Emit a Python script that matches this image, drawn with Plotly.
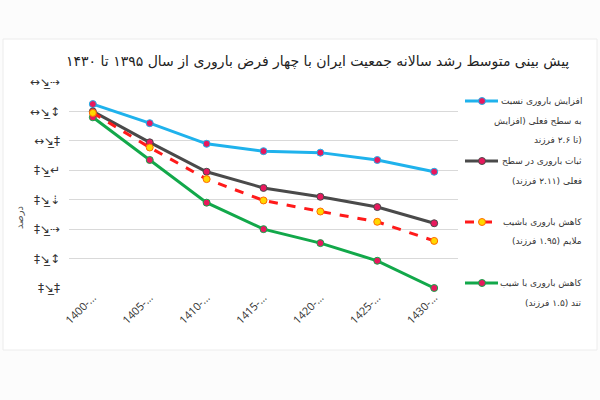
import plotly.graph_objects as go

categories = ["1400-...", "1405-...", "1410-...", "1415-...", "1420-...", "1425-...", "1430-..."]
blue_vals = [1.25, 1.12, 0.98, 0.93, 0.92, 0.87, 0.79]
gray_vals = [1.20, 0.99, 0.79, 0.68, 0.62, 0.55, 0.44]
red_vals = [1.19, 0.955, 0.74, 0.595, 0.52, 0.45, 0.32]
green_vals = [1.16, 0.87, 0.58, 0.40, 0.305, 0.185, 0.0]
ytick_vals = [0, 0.2, 0.4, 0.6, 0.8, 1.0, 1.2, 1.4]
ytick_text = ["‡↘̲‡", "‡↘̲↕", "‡↘̲⇢", "‡↘̲⇣", "‡↘̲↵", "↔↘̲‡", "↔↘̲↕", "↔↘̲⇢"]

title = "پیش بینی متوسط رشد سالانه جمعیت ایران با چهار فرض باروری از سال ۱۳۹۵ تا ۱۴۳۰"
legend_entries = [
    (["افزایش باروری نسبت", "به سطح فعلی (افزایش", "تا ۲.۶ فرزند)"], "#1fb2ec", "solid", "#e8185d", "#1fb2ec"),
    (["ثبات باروری در سطح", "فعلی (۲.۱۱ فرزند)"], "#4a4a4a", "solid", "#e8185d", "#4a4a4a"),
    (["کاهش باروری باشیب", "ملایم (۱.۹۵ فرزند)"], "#ff1a1a", "dash", "#ffd700", "#ff6a00"),
    (["کاهش باروری با شیب", "تند (۱.۵ فرزند)"], "#12a84a", "solid", "#e8185d", "#12a84a"),
]

W, H = 600, 400
L, R, T, B = 69, 458, 82, 288


def px(x):
    return (x - L) / (R - L)


def py(y):
    return (B - y) / (B - T)


fig = go.Figure()
series = [
    (blue_vals, legend_entries[0]),
    (gray_vals, legend_entries[1]),
    (green_vals, legend_entries[3]),
    (red_vals, legend_entries[2]),
]
for vals, (_, lc, dash, mfill, mline) in series:
    fig.add_trace(go.Scatter(
        x=categories, y=vals, mode="lines+markers",
        line=dict(color=lc, width=3, dash=dash),
        marker=dict(size=7, color=mfill, line=dict(color=mline, width=1)),
        showlegend=False, cliponaxis=False,
    ))

shapes = [
    dict(type="rect", xref="paper", yref="paper", x0=px(3), x1=px(597), y0=py(350), y1=py(39),
         fillcolor="white", line=dict(color="#ececec", width=1), layer="below"),
]
annotations = [
    dict(text=title, x=px(317), y=py(61), xref="paper", yref="paper", showarrow=False,
         xanchor="center", yanchor="middle", font=dict(family="DejaVu Sans", size=14, color="#222")),
    dict(text="درصد", x=px(20), y=py(218), xref="paper", yref="paper", showarrow=False,
         textangle=-90, xanchor="center", yanchor="middle", font=dict(family="DejaVu Sans", size=10, color="#555")),
]

legend_y = [101, 161, 222, 283]
for (lines, lc, dash, mfill, mline), ly in zip(legend_entries, legend_y):
    shapes.append(dict(type="line", xref="paper", yref="paper", x0=px(465), x1=px(498), y0=py(ly), y1=py(ly),
                       line=dict(color=lc, width=3, dash=dash)))
    shapes.append(dict(type="circle", xref="paper", yref="paper", xsizemode="pixel", ysizemode="pixel",
                       xanchor=px(482), yanchor=py(ly), x0=-3.5, x1=3.5, y0=-3.5, y1=3.5,
                       fillcolor=mfill, line=dict(color=mline, width=1)))
    for i, t in enumerate(lines):
        annotations.append(dict(text=t, x=px(584), y=py(ly + i * 19.5), xref="paper", yref="paper",
                                showarrow=False, xanchor="right", yanchor="middle",
                                font=dict(family="DejaVu Sans", size=9, color="#333")))

fig.update_layout(
    width=W, height=H,
    margin=dict(l=L, r=W - R, t=T, b=H - B),
    paper_bgcolor="#fcfcfc", plot_bgcolor="rgba(0,0,0,0)",
    shapes=shapes, annotations=annotations,
    xaxis=dict(tickangle=-45, showgrid=False, showline=False, zeroline=False,
               tickfont=dict(family="Open Sans", size=11, color="#333"), ticks=""),
    yaxis=dict(range=[0, 1.4], tickvals=ytick_vals, ticktext=ytick_text, showgrid=True,
               gridcolor="#d9d9d9", gridwidth=1, zeroline=False, showline=False, ticks="",
               tickfont=dict(family="DejaVu Sans", size=12, color="#333"), ticklabelstandoff=8),
)
fig.write_html("out.html")
